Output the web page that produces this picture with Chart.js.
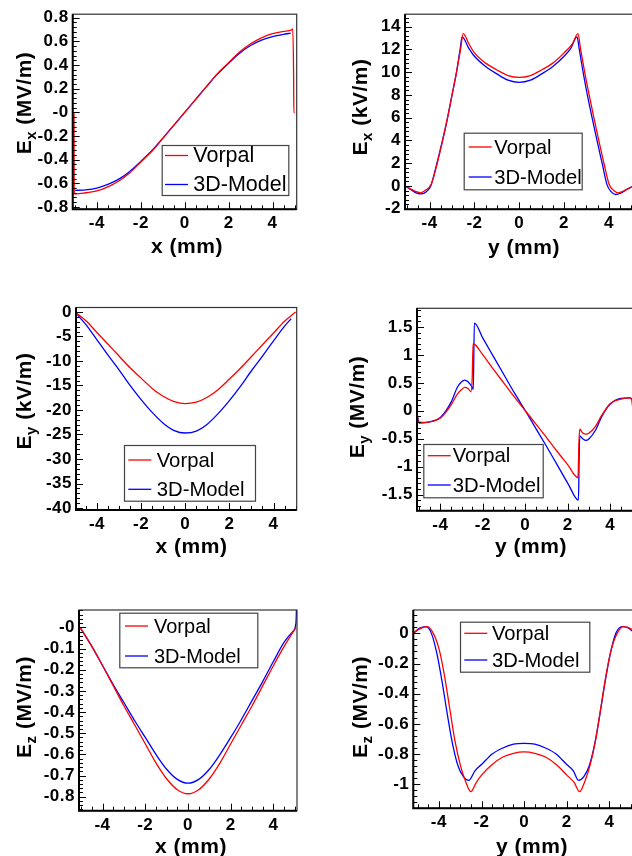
<!doctype html>
<html lang="en">
<head>
<meta charset="UTF-8">
<title>Field components: Vorpal vs 3D-Model</title>
<script src="https://cdn.jsdelivr.net/npm/chart.js"></script>
<style>
  html, body { margin: 0; padding: 0; background: #fff; overflow: hidden; }
  body { width: 632px; height: 856px; position: relative; }
  canvas { position: absolute; }
</style>
</head>
<body>
<canvas id="exx"></canvas>
<canvas id="exy"></canvas>
<canvas id="eyx"></canvas>
<canvas id="eyy"></canvas>
<canvas id="ezx"></canvas>
<canvas id="ezy"></canvas>
<script>
// ---- data ----
const seriesNames = ['Vorpal', '3D-Model'];
const seriesColors = ['#ff0000', '#0000ff'];
const posTicks = [-4, -2, 0, 2, 4];
const posTickText = ['-4', '-2', '0', '2', '4'];

// Ex along x (MV/m)
const exX_vorpalPos = [-5.04, -5.03, -4.95, -4.5, -4.0, -3.5, -3.0, -2.5, -2.0, -1.5, -1.0, -0.5, 0.0, 0.5, 1.0, 1.5, 2.0, 2.5, 3.0, 3.5, 4.0, 4.5, 4.85, 4.92, 4.96, 4.97, 5.01];
const exX_vorpal    = [0.0, -0.69, -0.69, -0.68, -0.665, -0.63, -0.58, -0.51, -0.42, -0.33, -0.22, -0.11, 0.0, 0.11, 0.22, 0.33, 0.42, 0.51, 0.58, 0.63, 0.665, 0.685, 0.695, 0.705, 0.3, 0.0, 0.0];
const exX_modelPos  = [-5.0, -4.5, -4.0, -3.5, -3.0, -2.5, -2.0, -1.5, -1.0, -0.5, 0.0, 0.5, 1.0, 1.5, 2.0, 2.5, 3.0, 3.5, 4.0, 4.5, 4.83];
const exX_model     = [-0.66, -0.655, -0.64, -0.61, -0.565, -0.5, -0.415, -0.325, -0.22, -0.11, 0.0, 0.11, 0.22, 0.325, 0.415, 0.5, 0.565, 0.61, 0.64, 0.66, 0.67];
const exX_ticks     = [0.8, 0.6, 0.4, 0.2, 0, -0.2, -0.4, -0.6, -0.8];
const exX_tickText  = ['0.8', '0.6', '0.4', '0.2', '-0', '-0.2', '-0.4', '-0.6', '-0.8'];

// Ex along y (kV/m)
const exY_vorpalPos = [-5.1, -4.85, -4.6, -4.4, -4.2, -3.92, -3.66, -3.42, -3.2, -3.0, -2.8, -2.62, -2.5, -2.25, -2.0, -1.5, -1.0, -0.5, 0.0, 0.5, 1.0, 1.5, 2.0, 2.37, 2.62, 2.74, 2.92, 3.12, 3.33, 3.55, 3.78, 4.02, 4.25, 4.42, 4.65, 4.9, 5.1];
const exY_vorpal    = [0.0, -0.25, -0.5, -0.6, -0.4, 0.2, 2.0, 4.0, 6.0, 8.0, 10.0, 12.0, 13.4, 12.5, 11.7, 10.8, 10.2, 9.7, 9.54, 9.7, 10.2, 10.8, 11.7, 12.5, 13.4, 12.0, 10.0, 8.0, 6.0, 4.0, 2.0, 0.1, -0.45, -0.6, -0.45, -0.2, 0.0];
const exY_modelPos  = [-5.1, -4.85, -4.6, -4.35, -4.15, -3.95, -3.7, -3.45, -3.22, -3.0, -2.8, -2.64, -2.55, -2.25, -2.0, -1.5, -1.0, -0.5, 0.0, 0.5, 1.0, 1.5, 2.0, 2.3, 2.58, 2.68, 2.85, 3.04, 3.25, 3.47, 3.7, 3.92, 4.1, 4.3, 4.55, 4.8, 5.1];
const exY_model     = [0.0, -0.3, -0.6, -0.7, -0.5, 0.0, 1.8, 3.8, 5.8, 8.0, 10.0, 12.0, 13.1, 12.1, 11.4, 10.5, 9.85, 9.3, 9.11, 9.3, 9.85, 10.5, 11.4, 12.1, 13.1, 12.0, 10.0, 8.0, 6.0, 4.0, 2.0, 0.1, -0.5, -0.75, -0.6, -0.3, 0.0];
const exY_ticks     = [14, 12, 10, 8, 6, 4, 2, 0, -2];
const exY_tickText  = ['14', '12', '10', '8', '6', '4', '2', '0', '-2'];

// Ey along x (kV/m)
const eyX_vorpalPos = [-5.0, -4.5, -4.0, -3.5, -3.0, -2.5, -2.0, -1.5, -1.0, -0.5, 0.0, 0.5, 1.0, 1.5, 2.0, 2.5, 3.0, 3.5, 4.0, 4.5, 5.0];
const eyX_vorpal    = [0.0, -1.8, -4.2, -6.6, -9.0, -11.4, -13.5, -15.6, -17.2, -18.3, -18.7, -18.4, -17.4, -15.8, -13.7, -11.5, -9.1, -6.7, -4.3, -1.9, 0.0];
const eyX_modelPos  = [-5.0, -4.5, -4.0, -3.5, -3.0, -2.5, -2.0, -1.5, -1.0, -0.5, 0.0, 0.5, 1.0, 1.5, 2.0, 2.5, 3.0, 3.5, 4.0, 4.5, 4.8];
const eyX_model     = [0.0, -2.6, -5.7, -8.8, -11.8, -15.0, -17.9, -20.5, -22.7, -24.2, -24.7, -24.3, -22.9, -20.7, -18.1, -15.2, -12.0, -9.0, -5.9, -2.9, -1.4];
const eyX_ticks     = [0, -5, -10, -15, -20, -25, -30, -35, -40];
const eyX_tickText  = ['0', '-5', '-10', '-15', '-20', '-25', '-30', '-35', '-40'];

// Ey along y (MV/m)
const eyY_vorpalPos = [-5.1, -5.04, -4.9, -4.5, -4.0, -3.5, -3.2, -3.0, -2.85, -2.7, -2.56, -2.5, -2.46, -2.0, -1.5, -1.0, -0.5, 0.0, 0.5, 1.0, 1.5, 2.0, 2.48, 2.52, 2.56, 2.7, 2.85, 3.0, 3.3, 3.6, 4.0, 4.5, 4.9, 5.0, 5.06];
const eyY_vorpal    = [0.0, -0.2, -0.21, -0.2, -0.13, 0.1, 0.3, 0.38, 0.42, 0.4, 0.34, 0.6, 1.2, 1.0, 0.74, 0.49, 0.24, 0.0, -0.24, -0.48, -0.73, -0.97, -1.2, -0.6, -0.33, -0.4, -0.42, -0.4, -0.28, -0.08, 0.13, 0.21, 0.23, 0.2, 0.04];
const eyY_modelPos  = [-5.1, -5.0, -4.5, -4.0, -3.5, -3.2, -3.0, -2.85, -2.7, -2.5, -2.45, -2.4, -2.0, -1.5, -1.0, -0.5, 0.0, 0.5, 1.0, 1.5, 2.0, 2.5, 2.53, 2.56, 2.7, 2.85, 3.0, 3.3, 3.6, 4.0, 4.5, 4.9, 5.1];
const eyY_model     = [-0.05, -0.22, -0.2, -0.12, 0.15, 0.42, 0.52, 0.55, 0.52, 0.42, 0.38, 1.57, 1.3, 0.97, 0.64, 0.31, 0.0, -0.32, -0.64, -0.97, -1.3, -1.6, -0.9, -0.45, -0.5, -0.53, -0.5, -0.35, -0.1, 0.12, 0.22, 0.23, 0.2];
const eyY_ticks     = [1.5, 1, 0.5, 0, -0.5, -1, -1.5];
const eyY_tickText  = ['1.5', '1', '0.5', '0', '-0.5', '-1', '-1.5'];

// Ez along x (MV/m)
const ezX_vorpalPos = [-5.05, -4.5, -4.0, -3.5, -3.0, -2.5, -2.0, -1.5, -1.0, -0.5, 0.0, 0.5, 1.0, 1.5, 2.0, 2.5, 3.0, 3.5, 4.0, 4.5, 5.05];
const ezX_vorpal    = [0.0, -0.09, -0.18, -0.275, -0.37, -0.46, -0.55, -0.64, -0.715, -0.767, -0.786, -0.767, -0.715, -0.64, -0.55, -0.46, -0.37, -0.275, -0.18, -0.09, 0.0];
const ezX_modelPos  = [-5.05, -4.5, -4.0, -3.5, -3.0, -2.5, -2.0, -1.5, -1.0, -0.5, 0.0, 0.5, 1.0, 1.5, 2.0, 2.5, 3.0, 3.5, 4.0, 4.5, 4.9, 5.05, 5.08];
const ezX_model     = [0.0, -0.09, -0.18, -0.27, -0.355, -0.44, -0.52, -0.6, -0.67, -0.718, -0.736, -0.718, -0.67, -0.6, -0.52, -0.435, -0.345, -0.255, -0.16, -0.07, -0.02, 0.02, 0.1];
const ezX_ticks     = [0, -0.1, -0.2, -0.3, -0.4, -0.5, -0.6, -0.7, -0.8];
const ezX_tickText  = ['-0', '-0.1', '-0.2', '-0.3', '-0.4', '-0.5', '-0.6', '-0.7', '-0.8'];

// Ez along y (MV/m)
const ezY_vorpalPos = [-5.2, -4.9, -4.55, -4.3, -4.0, -3.75, -3.5, -3.25, -3.0, -2.75, -2.5, -2.25, -2.0, -1.5, -1.0, -0.5, 0.0, 0.5, 1.0, 1.5, 2.0, 2.35, 2.6, 2.85, 3.1, 3.35, 3.6, 3.85, 4.1, 4.4, 4.65, 5.0, 5.2];
const ezY_vorpal    = [0.0, 0.03, 0.045, 0.01, -0.1, -0.27, -0.49, -0.71, -0.87, -0.98, -1.05, -0.99, -0.94, -0.87, -0.82, -0.795, -0.786, -0.795, -0.82, -0.87, -0.94, -0.99, -1.05, -0.98, -0.87, -0.71, -0.49, -0.27, -0.1, 0.01, 0.045, 0.03, 0.0];
const ezY_modelPos  = [-5.2, -4.9, -4.6, -4.35, -4.1, -3.85, -3.6, -3.35, -3.1, -2.85, -2.6, -2.3, -2.0, -1.5, -1.0, -0.5, 0.0, 0.5, 1.0, 1.5, 2.0, 2.3, 2.55, 2.8, 3.05, 3.3, 3.55, 3.8, 4.05, 4.3, 4.6, 4.9, 5.2];
const ezY_model     = [0.0, 0.035, 0.045, 0.0, -0.13, -0.32, -0.54, -0.74, -0.88, -0.95, -0.975, -0.91, -0.87, -0.8, -0.76, -0.735, -0.73, -0.735, -0.76, -0.8, -0.87, -0.91, -0.975, -0.95, -0.88, -0.74, -0.54, -0.32, -0.13, 0.0, 0.045, 0.035, 0.0];
const ezY_ticks     = [0, -0.2, -0.4, -0.6, -0.8, -1];
const ezY_tickText  = ['0', '-0.2', '-0.4', '-0.6', '-0.8', '-1'];

// ---- layout (page pixels) ----
const FONT = '"Liberation Sans", Arial, Helvetica, sans-serif';
// legend: [left, top, width, height, row 1 y, row 2 y, line start, text start, font size]
const panels = [
  { id: 'exx', box: [0, 0, 316, 290], plot: [72.7, 9, 296.7, 209.3],
    xr: [-5.1, 5.1], yr: [-0.82, 0.83], yMinor: 0.04,
    yTicks: exX_ticks, yText: exX_tickText,
    series: [[exX_vorpalPos, exX_vorpal], [exX_modelPos, exX_model]],
    yTitle: ['E', 'x', ' (MV/m)'], yTitleAt: [23, 103], xTitle: 'x (mm)', xTitleAt: [187, 247],
    legend: [161.7, 145, 126.6, 50, 155.5, 184.5, 165, 193.3, 21.5] },
  { id: 'exy', box: [316, 0, 330, 290], plot: [405, 9, 633.5, 209.3],
    xr: [-5.1, 5.1], yr: [-2.05, 15.1], yMinor: 0.4,
    yTicks: exY_ticks, yText: exY_tickText,
    series: [[exY_vorpalPos, exY_vorpal], [exY_modelPos, exY_model]],
    yTitle: ['E', 'x', ' (kV/m)'], yTitleAt: [359, 107], xTitle: 'y (mm)', xTitleAt: [524, 248],
    legend: [463.7, 132.7, 118, 56.6, 147, 177, 468.7, 494.3, 20.2] },
  { id: 'eyx', box: [0, 290, 316, 300], plot: [76, 307.5, 296.7, 510],
    xr: [-4.95, 5.05], yr: [-40.4, 0.9], yMinor: 1,
    yTicks: eyX_ticks, yText: eyX_tickText,
    series: [[eyX_vorpalPos, eyX_vorpal], [eyX_modelPos, eyX_model]],
    yTitle: ['E', 'y', ' (kV/m)'], yTitleAt: [23, 401], xTitle: 'x (mm)', xTitleAt: [191.5, 547],
    legend: [124, 445, 131, 55.7, 460, 489.3, 128.3, 156.7, 20.3] },
  { id: 'eyy', box: [316, 290, 330, 300], plot: [417, 308.3, 633.7, 510.7],
    xr: [-5.1, 5.1], yr: [-1.79, 1.835], yMinor: 0.1,
    yTicks: eyY_ticks, yText: eyY_tickText,
    series: [[eyY_vorpalPos, eyY_vorpal], [eyY_modelPos, eyY_model]],
    yTitle: ['E', 'y', ' (MV/m)'], yTitleAt: [356, 407], xTitle: 'y (mm)', xTitleAt: [531, 547],
    legend: [423.3, 444, 119.4, 53.3, 455.7, 485, 427.7, 452.7, 20.3] },
  { id: 'ezx', box: [0, 590, 316, 266], plot: [79, 610, 297, 810.7],
    xr: [-5.1, 5.1], yr: [-0.866, 0.082], yMinor: 0.02,
    yTicks: ezX_ticks, yText: ezX_tickText,
    series: [[ezX_vorpalPos, ezX_vorpal], [ezX_modelPos, ezX_model]],
    yTitle: ['E', 'z', ' (MV/m)'], yTitleAt: [23, 707], xTitle: 'x (mm)', xTitleAt: [191, 847],
    legend: [119.3, 612.7, 138, 54.6, 626, 656, 125, 154, 20] },
  { id: 'ezy', box: [316, 590, 330, 266], plot: [413.3, 610, 635, 808.3],
    xr: [-5.2, 5.2], yr: [-1.16, 0.155], yMinor: 0.04,
    yTicks: ezY_ticks, yText: ezY_tickText,
    series: [[ezY_vorpalPos, ezY_vorpal], [ezY_modelPos, ezY_model]],
    yTitle: ['E', 'z', ' (MV/m)'], yTitleAt: [359, 707], xTitle: 'y (mm)', xTitleAt: [532, 847],
    legend: [460, 621.7, 129.3, 50, 633.3, 660, 464.3, 492, 20.2] }
];

const AXIS_W = 60, AXIS_H = 30;

function minorTicks(lo, hi, step) {
  const out = [];
  for (let v = Math.ceil(lo / step - 1e-9) * step; v <= hi + 1e-9; v += step) out.push(v);
  return out;
}

// frame, inward tick marks, axis titles and legend box
function decorate(chart, p) {
  const ctx = chart.ctx;
  const ca = chart.chartArea;
  const xs = chart.scales.x, ys = chart.scales.y;
  const ox = p.box[0], oy = p.box[1];
  ctx.save();
  ctx.letterSpacing = '0px';

  ctx.strokeStyle = '#000';
  ctx.lineWidth = 1;
  ctx.beginPath();
  for (const v of minorTicks(p.xr[0], p.xr[1], 0.5)) {
    const px = Math.round(xs.getPixelForValue(v)) + 0.5;
    const len = posTicks.includes(Math.round(v * 100) / 100) ? 7 : 4;
    ctx.moveTo(px, ca.bottom); ctx.lineTo(px, ca.bottom - len);
  }
  for (const v of minorTicks(p.yr[0], p.yr[1], p.yMinor)) {
    const py = Math.round(ys.getPixelForValue(v)) + 0.5;
    ctx.moveTo(ca.left, py); ctx.lineTo(ca.left + 4, py);
  }
  for (const v of p.yTicks) {
    const py = Math.round(ys.getPixelForValue(v)) + 0.5;
    ctx.moveTo(ca.left, py); ctx.lineTo(ca.left + 7, py);
  }
  ctx.stroke();

  ctx.strokeStyle = '#333';
  ctx.lineWidth = 1.2;
  ctx.strokeRect(ca.left, ca.top, ca.right - ca.left, ca.bottom - ca.top);
  ctx.strokeStyle = '#000';
  ctx.lineWidth = 2;
  ctx.beginPath();
  ctx.moveTo(ca.left, ca.top); ctx.lineTo(ca.left, ca.bottom); ctx.lineTo(ca.right, ca.bottom);
  ctx.stroke();

  // x title
  ctx.fillStyle = '#000';
  ctx.font = 'bold 21px ' + FONT;
  ctx.letterSpacing = '0.5px';
  ctx.textAlign = 'center';
  ctx.textBaseline = 'middle';
  ctx.fillText(p.xTitle, p.xTitleAt[0] - ox, p.xTitleAt[1] - oy);

  // y title with subscript
  ctx.save();
  ctx.translate(p.yTitleAt[0] - ox, p.yTitleAt[1] - oy);
  ctx.rotate(-Math.PI / 2);
  ctx.textAlign = 'left';
  ctx.textBaseline = 'alphabetic';
  const [main, sub, rest] = p.yTitle;
  ctx.font = 'bold 21px ' + FONT;
  const w1 = ctx.measureText(main).width, w3 = ctx.measureText(rest).width;
  ctx.font = 'bold 15px ' + FONT;
  const w2 = ctx.measureText(sub).width;
  let tx = -(w1 + w2 + w3) / 2;
  ctx.font = 'bold 21px ' + FONT;
  ctx.fillText(main, tx, 7.5); tx += w1;
  ctx.font = 'bold 15px ' + FONT;
  ctx.fillText(sub, tx, 12.5); tx += w2;
  ctx.font = 'bold 21px ' + FONT;
  ctx.fillText(rest, tx, 7.5);
  ctx.restore();

  // legend
  const [lx, ly, lw, lh, r1, r2, lineX, textX, fs] = p.legend;
  const bx = lx - ox, by = ly - oy;
  ctx.fillStyle = '#fff';
  ctx.fillRect(bx, by, lw, lh);
  ctx.strokeStyle = '#444';
  ctx.lineWidth = 1.2;
  ctx.strokeRect(bx + 0.5, by + 0.5, lw, lh);
  ctx.font = fs + 'px ' + FONT;
  ctx.letterSpacing = '0px';
  ctx.textAlign = 'left';
  ctx.textBaseline = 'middle';
  chart.data.datasets.forEach((ds, i) => {
    const ry = (i === 0 ? r1 : r2) - oy;
    ctx.strokeStyle = ds.borderColor;
    ctx.lineWidth = 1.3;
    ctx.beginPath();
    ctx.moveTo(lineX - ox, ry); ctx.lineTo(lineX - ox + 23, ry);
    ctx.stroke();
    ctx.fillStyle = '#000';
    ctx.fillText(ds.label, textX - ox, ry + 1);
  });
  ctx.restore();
}

panels.forEach(p => {
  const cv = document.getElementById(p.id);
  const [bx, by, bw, bh] = p.box;
  const [l, t, r, b] = p.plot;
  cv.width = bw; cv.height = bh;
  cv.style.left = bx + 'px'; cv.style.top = by + 'px';
  cv.style.width = bw + 'px'; cv.style.height = bh + 'px';

  const tickFont = { family: FONT, weight: 'bold', size: 17 };
  new Chart(cv, {
    type: 'line',
    data: {
      datasets: p.series.map(([xs, ys], i) => ({
        label: seriesNames[i],
        data: xs.map((x, k) => ({ x: x, y: ys[k] })),
        borderColor: seriesColors[i],
        borderWidth: 1.3,
        pointRadius: 0,
        fill: false,
        cubicInterpolationMode: 'monotone'
      }))
    },
    options: {
      responsive: false,
      animation: false,
      devicePixelRatio: 1,
      layout: {
        autoPadding: false,
        padding: { left: l - bx - AXIS_W, top: t - by, right: bx + bw - r, bottom: by + bh - b - AXIS_H }
      },
      plugins: { legend: { display: false }, tooltip: { enabled: false } },
      scales: {
        x: {
          type: 'linear', min: p.xr[0], max: p.xr[1],
          grid: { display: false, drawTicks: false }, border: { display: false },
          afterFit: s => { s.height = AXIS_H; },
          afterBuildTicks: s => { s.ticks = posTicks.map(v => ({ value: v })); },
          ticks: { callback: (v, i) => posTickText[i], font: tickFont, color: '#000', padding: 4, maxRotation: 0, autoSkip: false }
        },
        y: {
          type: 'linear', min: p.yr[0], max: p.yr[1],
          grid: { display: false, drawTicks: false }, border: { display: false },
          afterFit: s => { s.width = AXIS_W; },
          afterBuildTicks: s => { s.ticks = p.yTicks.map(v => ({ value: v })); },
          ticks: { callback: (v, i) => p.yText[i], font: tickFont, color: '#000', padding: 4, autoSkip: false }
        }
      }
    },
    plugins: [{
      id: 'frame_' + p.id,
      beforeDraw: chart => { chart.ctx.letterSpacing = '0.5px'; },
      afterDraw: chart => decorate(chart, p)
    }]
  });
});
</script>
</body>
</html>
